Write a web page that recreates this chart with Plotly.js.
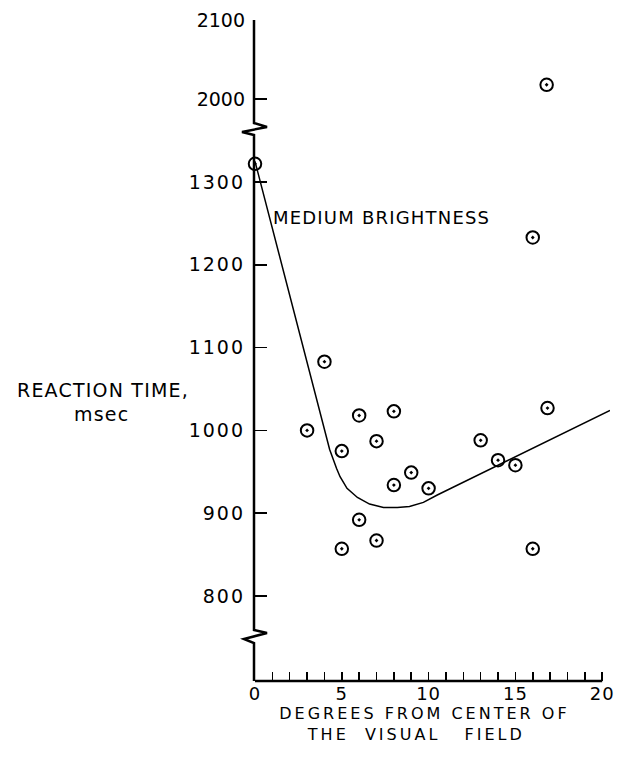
<!DOCTYPE html>
<html>
<head>
<meta charset="utf-8">
<script src="https://cdn.plot.ly/plotly-3.0.1.min.js"></script>
<style>
html,body{margin:0;padding:0;background:#fff;}
.xtitle{letter-spacing:3px;}
.annotation-text{letter-spacing:1.2px;}
.ytick text{letter-spacing:2px;}
.xtick text{letter-spacing:1px;}
</style>
</head>
<body>
<div id="chart" style="width:630px;height:765px;"></div>
<script>
// Observations (degrees from center, reaction time in msec)
const lowDeg = [0, 3, 4, 5, 6, 8, 7, 9, 8, 10, 13, 14, 15, 16.85, 6, 7, 5, 16, 16];
const lowRT  = [1322, 1000, 1083, 975, 1018, 1023, 987, 949, 934, 930, 988, 964, 958, 1027, 892, 867, 857, 857, 1233];
const highDeg = [16.8];
const highRT  = [2018];
// Fitted curve (medium brightness)
const curveDeg = [0, 3.3, 4.3, 4.7, 4.9, 5.3, 5.9, 6.6, 7.4, 8.2, 8.9, 9.7, 10.5, 20.45];
const curveRT  = [1325, 1058, 977, 954, 944, 930, 919, 911, 907, 907, 908, 913, 922, 1024];
// Tick labels
const xTickVals = [0,1,2,3,4,5,6,7,8,9,10,11,12,13,14,15,16,17,18,19,20];
const xTickText = ['0','','','','','5','','','','','10','','','','','15','','','','','20'];
const yLowTicks = [800, 900, 1000, 1100, 1200, 1300];
const yHighTicks = [2000, 2100];

const FONT = 'DejaVu Sans';
const W = 630, H = 765;
const L = 255, R = 610, T = 20, B = 681;
const px = p => (p - L) / (R - L);
const py = p => (B - p) / (B - T);

const marker = {symbol: 'circle-open-dot', size: 12.5, color: '#000', line: {width: 2, color: '#000'}};

const traces = [
  {x: curveDeg, y: curveRT, mode: 'lines', line: {color: '#000', width: 1.5}, xaxis: 'x', yaxis: 'y', hoverinfo: 'skip'},
  {x: lowDeg, y: lowRT, mode: 'markers', marker: marker, cliponaxis: false, xaxis: 'x', yaxis: 'y'},
  {x: highDeg, y: highRT, mode: 'markers', marker: marker, cliponaxis: false, xaxis: 'x', yaxis: 'y2'}
];

const pts = [[254,681],[254,643],[244,639],[267,633],[254,630],[254,135],[242,132],[267,127],[254,123],[254,20]];
const axisPath = pts.map((p, i) => (i ? 'L ' : 'M ') + px(p[0]) + ',' + py(p[1])).join(' ');

const NB = '&nbsp;';
const xTitle = 'DEGREES' + NB + 'FROM' + NB + 'CENTER' + NB + 'OF' + NB + NB +
  '<br>THE' + NB + NB + 'VISUAL' + NB + NB + NB + 'FIELD' + NB + NB + NB + NB;

const layout = {
  width: W, height: H,
  margin: {l: L, r: W - R, t: T, b: H - B, pad: 0},
  paper_bgcolor: '#fff', plot_bgcolor: '#fff',
  showlegend: false,
  font: {family: FONT, color: '#000', size: 17},
  xaxis: {
    range: [0, 20.45], domain: [0, 1], anchor: 'y',
    tickmode: 'array', tickvals: xTickVals, ticktext: xTickText,
    ticks: 'inside', ticklen: 9, tickwidth: 1.5, tickcolor: '#000',
    showline: false, showgrid: false, zeroline: false,
    tickfont: {family: FONT, size: 18, color: '#000'},
    title: {text: xTitle, font: {family: FONT, size: 16, color: '#000'}, standoff: 0}
  },
  yaxis: {
    range: [697.3, 1356.8], domain: [0, py(135)], anchor: 'x',
    tickmode: 'array', tickvals: yLowTicks,
    ticks: 'inside', ticklen: 12, tickwidth: 1.5, tickcolor: '#000',
    showline: false, showgrid: false, zeroline: false,
    tickfont: {family: FONT, size: 19, color: '#000'}, ticklabelstandoff: 9
  },
  yaxis2: {
    range: [1969.6, 2100], domain: [py(123), 1], anchor: 'x',
    tickmode: 'array', tickvals: yHighTicks,
    ticks: 'inside', ticklen: 12, tickwidth: 1.5, tickcolor: '#000',
    showline: false, showgrid: false, zeroline: false,
    tickfont: {family: FONT, size: 19, color: '#000'}, ticklabelstandoff: 9
  },
  shapes: [
    {type: 'path', xref: 'paper', yref: 'paper', path: axisPath, line: {color: '#000', width: 2.5}},
    {type: 'line', xref: 'x', yref: 'paper', x0: 0, x1: 20, y0: 0, y1: 0, line: {color: '#000', width: 2.5}}
  ],
  annotations: [
    {text: 'MEDIUM BRIGHTNESS', xref: 'x', yref: 'y', x: 0.9, y: 1257, xanchor: 'left', yanchor: 'middle', showarrow: false, font: {family: FONT, size: 18, color: '#000'}},
    {text: 'REACTION TIME,', xref: 'paper', yref: 'paper', x: px(103), y: py(402), xanchor: 'center', yanchor: 'bottom', borderpad: 0, showarrow: false, font: {family: FONT, size: 19, color: '#000'}},
    {text: 'msec', xref: 'paper', yref: 'paper', x: px(101), y: py(402), xanchor: 'center', yanchor: 'top', borderpad: 0, showarrow: false, font: {family: FONT, size: 19, color: '#000'}}
  ]
};

Plotly.newPlot('chart', traces, layout, {displayModeBar: false, staticPlot: true});
</script>
</body>
</html>
